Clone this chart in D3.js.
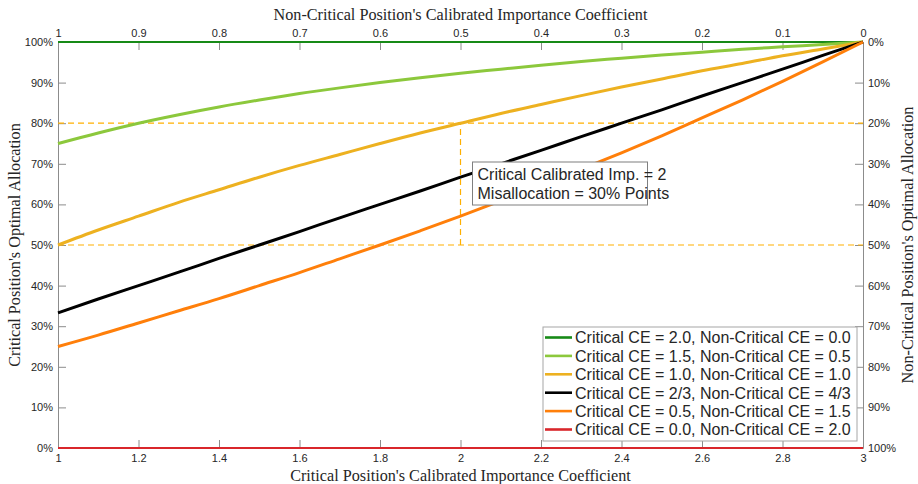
<!DOCTYPE html>
<html>
<head>
<meta charset="utf-8" />
<title>Optimal Allocation</title>
<style>
body { margin: 0; background: #fff; }
.tick text { font-family: "Liberation Sans", Arial, sans-serif; font-size: 11px; fill: #262626; }
.axis-title { font-family: "Liberation Serif", "Times New Roman", serif; font-size: 16.2px; fill: #262626; }
.legend text, .note text { font-family: "Liberation Sans", Arial, sans-serif; font-size: 16px; fill: #262626; }
</style>
</head>
<body>
<div id="chart"></div>
<script src="https://d3js.org/d3.v7.min.js"></script>
<script>
// critical position's calibrated importance coefficient (x axis)
var xValues = [1.0, 1.1, 1.2, 1.3, 1.4, 1.5, 1.6, 1.7, 1.8, 1.9, 2.0,
               2.1, 2.2, 2.3, 2.4, 2.5, 2.6, 2.7, 2.8, 2.9, 3.0];

// critical position's optimal allocation, %
var ce20 = [100, 100, 100, 100, 100, 100, 100, 100, 100, 100, 100,
            100, 100, 100, 100, 100, 100, 100, 100, 100, 100];
var ce15 = [75.0, 77.6, 80.0, 82.1, 84.0, 85.7, 87.3, 88.7, 90.0, 91.2, 92.3,
            93.3, 94.3, 95.2, 96.0, 96.8, 97.5, 98.2, 98.8, 99.4, 100];
var ce10 = [50.0, 53.7, 57.1, 60.5, 63.6, 66.7, 69.6, 72.3, 75.0, 77.6, 80.0,
            82.4, 84.6, 86.8, 88.9, 90.9, 92.9, 94.7, 96.6, 98.3, 100];
var ce067 = [33.3, 36.7, 40.0, 43.3, 46.7, 50.0, 53.3, 56.7, 60.0, 63.3, 66.7,
             70.0, 73.3, 76.7, 80.0, 83.3, 86.7, 90.0, 93.3, 96.7, 100];
var ce05 = [25.0, 27.8, 30.8, 33.8, 36.8, 40.0, 43.2, 46.6, 50.0, 53.5, 57.1,
            60.9, 64.7, 68.7, 72.7, 76.9, 81.3, 85.7, 90.3, 95.1, 100];
var ce00 = [0, 0, 0, 0, 0, 0, 0, 0, 0, 0, 0,
            0, 0, 0, 0, 0, 0, 0, 0, 0, 0];

var seriesNames = [
  'Critical CE = 2.0, Non-Critical CE = 0.0',
  'Critical CE = 1.5, Non-Critical CE = 0.5',
  'Critical CE = 1.0, Non-Critical CE = 1.0',
  'Critical CE = 2/3, Non-Critical CE = 4/3',
  'Critical CE = 0.5, Non-Critical CE = 1.5',
  'Critical CE = 0.0, Non-Critical CE = 2.0'
];
var seriesValues = [ce20, ce15, ce10, ce067, ce05, ce00];
var seriesColors = ['#178a17', '#8cc83c', '#edb120', '#000000', '#ff7f0a', '#d9262b'];
var seriesWidths = [2.2, 3, 3, 3, 3, 2.2];

var bottomTicks = [1, 1.2, 1.4, 1.6, 1.8, 2, 2.2, 2.4, 2.6, 2.8, 3];
var topTicks = [1, 0.9, 0.8, 0.7, 0.6, 0.5, 0.4, 0.3, 0.2, 0.1, 0];
var leftTicks = [0, 10, 20, 30, 40, 50, 60, 70, 80, 90, 100];
var rightTicks = [0, 10, 20, 30, 40, 50, 60, 70, 80, 90, 100];

// reference annotation: x = 2, allocation 50% vs 80%
var refX = 2;
var refLevels = [50, 80];
var noteLines = ['Critical Calibrated Imp. = 2', 'Misallocation = 30% Points'];

var width = 918, height = 484;
var margin = {top: 42, right: 55, bottom: 36, left: 58};
var innerW = width - margin.left - margin.right;
var innerH = height - margin.top - margin.bottom;

var x = d3.scaleLinear().domain([1, 3]).range([0, innerW]);
var xTop = d3.scaleLinear().domain([1, 0]).range([0, innerW]);
var y = d3.scaleLinear().domain([0, 100]).range([innerH, 0]);
var yRight = d3.scaleLinear().domain([100, 0]).range([innerH, 0]);

var svg = d3.select('#chart').append('svg')
  .attr('width', width).attr('height', height);
var g = svg.append('g')
  .attr('transform', 'translate(' + margin.left + ',' + margin.top + ')');

function styleAxis(sel) {
  sel.select('.domain').attr('stroke', '#8c8c8c');
  sel.selectAll('.tick line').attr('stroke', '#8c8c8c');
}

var tickLen = 8;
g.append('g').attr('transform', 'translate(0,' + innerH + ')')
  .call(d3.axisBottom(x).tickValues(bottomTicks).tickSizeInner(-tickLen).tickSizeOuter(0)
    .tickFormat(d3.format('')))
  .call(styleAxis).call(function(s) { s.selectAll('.tick text').attr('y', 6); });
g.append('g')
  .call(d3.axisTop(xTop).tickValues(topTicks).tickSizeInner(-tickLen).tickSizeOuter(0)
    .tickFormat(d3.format('')))
  .call(styleAxis).call(function(s) { s.selectAll('.tick text').attr('y', -5); });
g.append('g')
  .call(d3.axisLeft(y).tickValues(leftTicks).tickSizeInner(-tickLen).tickSizeOuter(0)
    .tickFormat(function(d) { return d + '%'; }))
  .call(styleAxis).call(function(s) { s.selectAll('.tick text').attr('x', -5); });
g.append('g').attr('transform', 'translate(' + innerW + ',0)')
  .call(d3.axisRight(yRight).tickValues(rightTicks).tickSizeInner(-tickLen).tickSizeOuter(0)
    .tickFormat(function(d) { return d + '%'; }))
  .call(styleAxis).call(function(s) { s.selectAll('.tick text').attr('x', 5); });

// dashed reference lines
var refColor = '#ffb000';
refLevels.forEach(function(v) {
  g.append('line')
    .attr('x1', x(1)).attr('x2', x(3))
    .attr('y1', y(v)).attr('y2', y(v))
    .attr('stroke', refColor).attr('stroke-width', 1.2)
    .attr('stroke-dasharray', '6,4');
});
g.append('line')
  .attr('x1', x(refX)).attr('x2', x(refX))
  .attr('y1', y(refLevels[0])).attr('y2', y(refLevels[1]))
  .attr('stroke', refColor).attr('stroke-width', 1.2)
  .attr('stroke-dasharray', '6,4');

// curves
var line = d3.line()
  .x(function(d) { return x(d[0]); })
  .y(function(d) { return y(d[1]); })
  .curve(d3.curveMonotoneX);

seriesValues.forEach(function(vals, i) {
  g.append('path')
    .datum(xValues.map(function(xv, j) { return [xv, vals[j]]; }))
    .attr('fill', 'none')
    .attr('stroke', seriesColors[i])
    .attr('stroke-width', seriesWidths[i])
    .attr('d', line);
});

// annotation box
var note = g.append('g').attr('class', 'note')
  .attr('transform', 'translate(' + (x(refX) + 12) + ',' + 120 + ')');
note.append('rect')
  .attr('width', 175).attr('height', 43)
  .attr('fill', '#fff').attr('stroke', '#7f7f7f').attr('stroke-width', 1);
note.selectAll('text').data(noteLines).enter().append('text')
  .attr('x', 5).attr('y', function(d, i) { return 18 + i * 18.5; })
  .text(function(d) { return d; });

// legend
var legendX = 485, legendY = 285, rowH = 18.4;
var legend = g.append('g').attr('class', 'legend')
  .attr('transform', 'translate(' + legendX + ',' + legendY + ')');
legend.append('rect')
  .attr('width', 314).attr('height', 114)
  .attr('fill', '#fff').attr('stroke', '#a6a6a6').attr('stroke-width', 1);
var rows = legend.selectAll('.row').data(seriesNames).enter().append('g')
  .attr('class', 'row')
  .attr('transform', function(d, i) { return 'translate(0,' + (10.5 + i * rowH) + ')'; });
rows.append('line')
  .attr('x1', 2).attr('x2', 29).attr('y1', 0).attr('y2', 0)
  .attr('stroke', function(d, i) { return seriesColors[i]; })
  .attr('stroke-width', 2.6);
rows.append('text')
  .attr('x', 32).attr('y', 5.8)
  .text(function(d) { return d; });

// axis titles
svg.append('text').attr('class', 'axis-title')
  .attr('x', margin.left + innerW / 2).attr('y', 20)
  .attr('text-anchor', 'middle')
  .text("Non-Critical Position's Calibrated Importance Coefficient");
svg.append('text').attr('class', 'axis-title')
  .attr('x', margin.left + innerW / 2).attr('y', 481)
  .attr('text-anchor', 'middle')
  .text("Critical Position's Calibrated Importance Coefficient");
svg.append('text').attr('class', 'axis-title')
  .attr('transform', 'translate(20,' + (margin.top + innerH / 2) + ') rotate(-90)')
  .attr('text-anchor', 'middle')
  .text("Critical Position's Optimal Allocation");
svg.append('text').attr('class', 'axis-title')
  .attr('transform', 'translate(913,' + (margin.top + innerH / 2) + ') rotate(-90)')
  .attr('text-anchor', 'middle')
  .text("Non-Critical Position's Optimal Allocation");
</script>
</body>
</html>
